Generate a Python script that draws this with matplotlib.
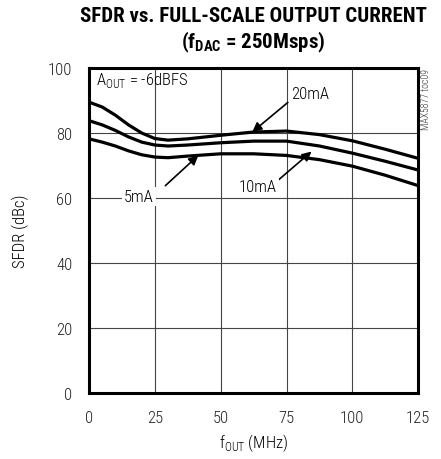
import matplotlib.pyplot as plt
import numpy as np

FAMS = ["Roboto Condensed", "Liberation Sans Narrow", "Liberation Sans", "DejaVu Sans"]
plt.rcParams["font.family"] = FAMS
plt.rcParams["font.weight"] = "light"
plt.rcParams["axes.labelweight"] = "light"
plt.rcParams["mathtext.fontset"] = "custom"
plt.rcParams["mathtext.rm"] = "Roboto Condensed:light"
plt.rcParams["mathtext.bf"] = "Roboto Condensed:bold"

# data
freq = [0, 5, 10, 15, 20, 25, 30, 37.5, 50, 62.5, 75, 87.5, 100, 112.5, 125]
sfdr_20ma = [89.5, 88.0, 85.5, 82.5, 80.0, 78.3, 77.8, 78.2, 79.3, 80.3, 80.6, 79.5, 77.6, 75.0, 72.2]
sfdr_10ma = [83.8, 82.5, 80.8, 78.8, 77.2, 76.3, 76.0, 76.3, 77.0, 77.5, 77.5, 76.0, 73.8, 71.3, 68.6]
sfdr_5ma = [78.2, 77.2, 76.0, 74.5, 73.3, 72.6, 72.4, 72.9, 73.6, 73.6, 73.1, 71.8, 69.8, 67.0, 63.8]

x_ticks = [0, 25, 50, 75, 100, 125]
y_ticks = [0, 20, 40, 60, 80, 100]

fig = plt.figure(figsize=(4.41, 4.60), dpi=100)
ax = fig.add_axes([0.2018, 0.1435, 0.7465, 0.7065])

for y in (sfdr_20ma, sfdr_10ma, sfdr_5ma):
    ax.plot(freq, y, color="black", lw=2.3, solid_capstyle="butt", zorder=3)

ax.set_xlim(0, 125)
ax.set_ylim(0, 100)
ax.set_xticks(x_ticks)
ax.set_yticks(y_ticks)
ax.tick_params(length=0, pad=12, labelsize=12, colors="#222222")
ax.grid(True, color="#444444", lw=0.8)
for s in ax.spines.values():
    s.set_linewidth(2.2)

ax.set_xlabel(r"f$_{\mathrm{OUT}}$ (MHz)", fontsize=12, labelpad=5)
ax.set_ylabel("SFDR (dBc)", fontsize=12, labelpad=14)

fig.text(0.575, 0.965, "SFDR vs. FULL-SCALE OUTPUT CURRENT", ha="center", va="center",
         fontsize=15, fontweight="bold")
fig.text(0.575, 0.907, r"(f$_{\mathbf{DAC}}$ = 250Msps)", ha="center", va="center",
         fontsize=15, fontweight="bold")

ax.text(2.5, 96.5, r"A$_{\mathrm{OUT}}$ = -6dBFS", fontsize=12, va="center", ha="left")
fig.text(0.966, 0.85, "MAX5877 toc09", rotation=90, fontsize=7, va="top", ha="center",
         color="#333333")

arrow = dict(arrowstyle="-|>", color="black", lw=1.2, mutation_scale=14, shrinkA=0, shrinkB=0)
ax.text(84, 92.3, "20mA", fontsize=12, ha="center", va="center")
ax.annotate("", xy=(62, 80.3), xytext=(75.5, 89.4), arrowprops=arrow)
ax.annotate("", xy=(84.5, 74.3), xytext=(72, 65.6), arrowprops=arrow)
ax.annotate("", xy=(41.5, 73.1), xytext=(29, 63.8), arrowprops=arrow)
ax.text(64, 63.4, "10mA", fontsize=12, ha="center", va="center",
        bbox=dict(facecolor="white", edgecolor="none", pad=1.5), zorder=4)
ax.text(19, 60.6, "5mA", fontsize=12, ha="center", va="center",
        bbox=dict(facecolor="white", edgecolor="none", pad=1.5), zorder=4)

fig.savefig("out.png", dpi=100)
